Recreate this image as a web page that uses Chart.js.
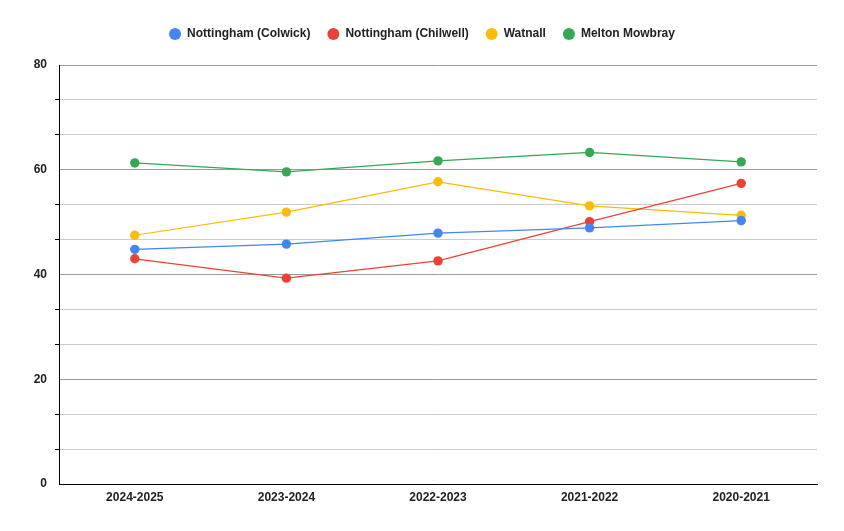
<!DOCTYPE html>
<html>
<head>
<meta charset="utf-8">
<script src="https://cdn.jsdelivr.net/npm/chart.js@4"></script>
<style>
  html, body { margin: 0; padding: 0; background: #fff; }
  #wrap { width: 844px; height: 531px; }
</style>
</head>
<body>
<div id="wrap"><canvas id="lineChart"></canvas></div>
<script>
const seasons = ["2024-2025", "2023-2024", "2022-2023", "2021-2022", "2020-2021"];
const colwick = [44.8, 45.8, 47.9, 48.9, 50.3];
const chilwell = [43.0, 39.3, 42.6, 50.1, 57.4];
const watnall = [47.5, 51.9, 57.7, 53.1, 51.3];
const meltonMowbray = [61.3, 59.6, 61.7, 63.3, 61.5];
const yTickValues = [0, 20 / 3, 40 / 3, 20, 80 / 3, 100 / 3, 40, 140 / 3, 160 / 3, 60, 200 / 3, 220 / 3, 80];
const yTickLabels = ["0", "", "", "20", "", "", "40", "", "", "60", "", "", "80"];

function isMajor(i) {
    return i % 3 === 0;
}

function series(label, data, color) {
    return {
        label: label,
        data: data,
        borderColor: color,
        backgroundColor: color,
        borderWidth: 1.2,
        pointRadius: 4.7,
        pointHoverRadius: 4.7,
        pointBorderWidth: 0,
        tension: 0
    };
}

// extra room under the legend, and centre it on the whole canvas
const legendSpace = {
    id: "legendSpace",
    beforeLayout: function (chart) {
        const legend = chart.legend;
        if (legend && !legend._patched) {
            const fit = legend.fit;
            legend.fit = function () {
                fit.call(this);
                this.height += 15;
            };
            legend._patched = true;
        }
    },
    afterLayout: function (chart) {
        if (chart.legend) {
            chart.legend.left = 0;
            chart.legend.right = chart.width;
        }
    }
};

const ctx = document.getElementById("lineChart").getContext("2d");
new Chart(ctx, {
    type: "line",
    data: {
        labels: seasons,
        datasets: [
            series("Nottingham (Colwick)", colwick, "#4285F4"),
            series("Nottingham (Chilwell)", chilwell, "#EA4335"),
            series("Watnall", watnall, "#FBBC04"),
            series("Melton Mowbray", meltonMowbray, "#34A853")
        ]
    },
    plugins: [legendSpace],
    options: {
        responsive: true,
        maintainAspectRatio: false,
        animation: false,
        layout: {
            padding: { left: 0, right: 27, top: 11, bottom: 0 }
        },
        plugins: {
            legend: {
                position: "top",
                labels: {
                    usePointStyle: true,
                    pointStyle: "circle",
                    boxWidth: 12,
                    boxHeight: 8.5,
                    padding: 17,
                    color: "#222",
                    font: { family: "Liberation Sans, Arial", size: 12, weight: "bold" }
                }
            },
            tooltip: { enabled: false }
        },
        scales: {
            x: {
                offset: true,
                grid: { display: false, drawTicks: false },
                border: { display: true, color: "#000", width: 1 },
                ticks: {
                    color: "#222",
                    padding: 6,
                    font: { family: "Liberation Sans, Arial", size: 12, weight: "bold" }
                },
                afterFit: function (scale) { scale.height = 47; }
            },
            y: {
                min: 0,
                max: 80,
                afterBuildTicks: function (scale) {
                    scale.ticks = yTickValues.map(function (v) { return { value: v }; });
                },
                afterFit: function (scale) { scale.width = 59; },
                grid: {
                    color: function (c) { return isMajor(c.index) ? "#9a9a9a" : "#cccccc"; },
                    tickColor: function (c) { return isMajor(c.index) ? "rgba(0,0,0,0)" : "#000"; },
                    tickLength: 4,
                    lineWidth: 1
                },
                border: { display: true, color: "#000", width: 1 },
                ticks: {
                    autoSkip: false,
                    color: "#222",
                    padding: 8,
                    font: { family: "Liberation Sans, Arial", size: 12, weight: "bold" },
                    callback: function (value, index) { return yTickLabels[index]; }
                }
            }
        }
    }
});
</script>
</body>
</html>
